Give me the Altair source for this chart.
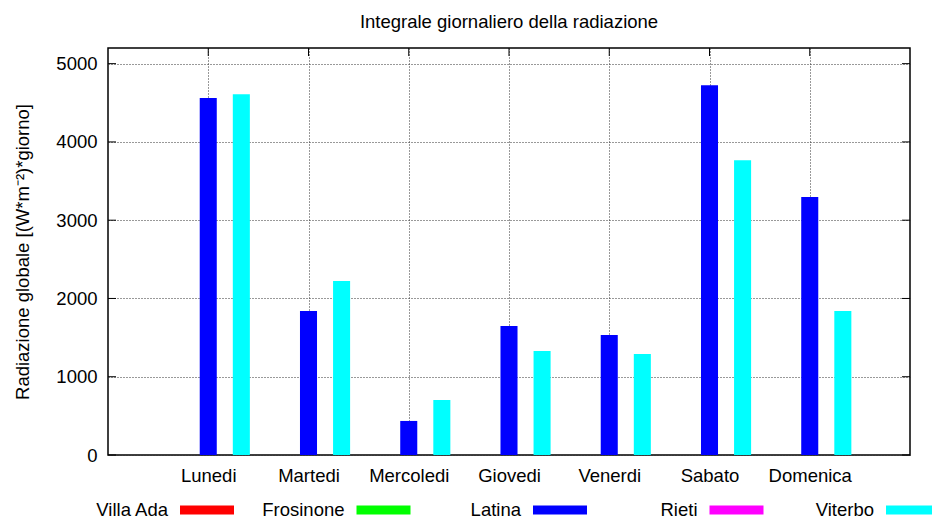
import json
import altair as alt
import pandas as pd

# ---- data ----
days = ["Lunedi", "Martedi", "Mercoledi", "Giovedi", "Venerdi", "Sabato", "Domenica"]
latina = [4560, 1840, 435, 1648, 1532, 4725, 3295]
viterbo = [4610, 2222, 702, 1328, 1290, 3767, 1840]
stations = ["Villa Ada", "Frosinone", "Latina", "Rieti", "Viterbo"]
colors = ["#ff0000", "#00ff00", "#0000ff", "#ff00ff", "#00ffff"]
y_ticks = [0, 1000, 2000, 3000, 4000, 5000]

title_text = "Integrale giornaliero della radiazione"
y_title = "Radiazione globale [(W*m\u207b\u00b2)*giorno]"

FONT = "Liberation Sans"
FS = 18.5
W, H = 802, 407

# ---- tables ----
offsets = {"Latina": 0.0, "Viterbo": 0.33}
half = 0.085
rows = []
for i, d in enumerate(days):
    for name, vals in (("Latina", latina), ("Viterbo", viterbo)):
        rows.append({"day": d, "i": i, "station": name, "value": vals[i],
                     "x0": i + offsets[name] - half, "x1": i + offsets[name] + half})
bars_df = pd.DataFrame(rows)
yt_df = pd.DataFrame({"v": y_ticks})
xt_df = pd.DataFrame({"i": list(range(len(days)))})
leg_df = pd.DataFrame({"station": stations, "k": list(range(len(stations)))})

xscale = alt.Scale(domain=[-1, 7], nice=False, zero=False)
yscale = alt.Scale(domain=[0, 5200], nice=False, zero=True)
cscale = alt.Scale(domain=stations, range=colors)

label_expr = json.dumps(days) + "[datum.value]"
xaxis = alt.Axis(values=list(range(len(days))), labelExpr=label_expr, title=None,
                 grid=True, gridDash=[1, 2], gridColor="#333", gridWidth=1,
                 domain=False, ticks=False, labelFont=FONT, labelFontSize=FS,
                 labelColor="black", labelPadding=26, labelBaseline="alphabetic",
                 labelFlush=False, labelOverlap=False)
yaxis = alt.Axis(values=y_ticks, format="d", title=y_title, grid=True, gridDash=[1, 2],
                 gridColor="#333", gridWidth=1, domain=False, ticks=False,
                 labelFont=FONT, labelFontSize=FS, labelColor="black", labelPadding=11,
                 titleFont=FONT, titleFontSize=FS, titleFontWeight="normal",
                 titleColor="black", titleAngle=270, titleX=-86, titleY=H / 2,
                 titleBaseline="middle", titleAlign="center")

bars = alt.Chart(bars_df).mark_rect().encode(
    x=alt.X("x0:Q", scale=xscale, axis=xaxis),
    x2="x1:Q",
    y=alt.Y("value:Q", scale=yscale, axis=yaxis),
    y2=alt.datum(0),
    color=alt.Color("station:N", scale=cscale, legend=None),
)

left_ticks = alt.Chart(yt_df).mark_rule(color="black", strokeWidth=1).encode(
    y=alt.Y("v:Q", scale=yscale, axis=yaxis), x=alt.value(0), x2=alt.value(8))
right_ticks = alt.Chart(yt_df).mark_rule(color="black", strokeWidth=1).encode(
    y=alt.Y("v:Q", scale=yscale, axis=yaxis), x=alt.value(W - 8), x2=alt.value(W))
top_ticks = alt.Chart(xt_df).mark_rule(color="black", strokeWidth=1).encode(
    x=alt.X("i:Q", scale=xscale, axis=xaxis), y=alt.value(0), y2=alt.value(8))
bottom_ticks = alt.Chart(xt_df).mark_rule(color="black", strokeWidth=1).encode(
    x=alt.X("i:Q", scale=xscale, axis=xaxis), y=alt.value(H - 8), y2=alt.value(H))

plot = alt.layer(left_ticks, right_ticks, top_ticks, bottom_ticks, bars)

# ---- custom legend (label left of coloured sample) ----
lscale = alt.Scale(domain=[0, 5], range=[0, 882.5], nice=False, zero=False)
leg_text = alt.Chart(leg_df).mark_text(
    align="right", baseline="alphabetic", dx=60, font=FONT, fontSize=FS, color="black"
).encode(x=alt.X("k:Q", scale=lscale, axis=None), y=alt.value(468), text="station:N")
leg_line = alt.Chart(leg_df).transform_calculate(
    s0="datum.k + 72/176.5", s1="datum.k + 126/176.5"
).mark_rule(strokeWidth=9).encode(
    x=alt.X("s0:Q", scale=lscale, axis=None), x2="s1:Q", y=alt.value(462),
    color=alt.Color("station:N", scale=cscale, legend=None))
legend = alt.layer(leg_text, leg_line)

chart = alt.layer(plot, legend).resolve_scale(x="independent").properties(
    width=W, height=H,
    title=alt.TitleParams(title_text, font=FONT, fontSize=FS, fontWeight="normal",
                          color="black", anchor="middle", baseline="alphabetic",
                          offset=1),
    autosize=alt.AutoSizeParams(type="none"),
    padding={"left": 100, "top": 40, "right": 22, "bottom": 66},
    background="white",
).configure_view(stroke="black", strokeWidth=1.5)

chart.save("out.html", embed_options={"renderer": "svg", "actions": False})
